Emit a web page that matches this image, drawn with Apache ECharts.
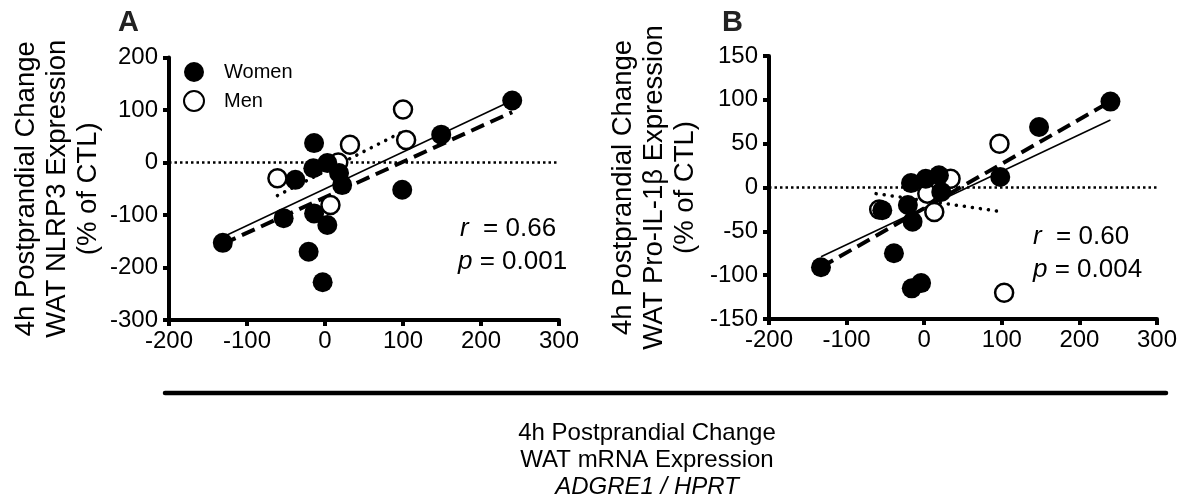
<!DOCTYPE html>
<html>
<head>
<meta charset="utf-8">
<script src="https://cdn.jsdelivr.net/npm/echarts@6/dist/echarts.min.js"></script>
<style>
  html, body { margin: 0; padding: 0; background: #fff; }
  #chart { width: 1184px; height: 504px; }
</style>
</head>
<body>
<div id="chart"></div>
<script>
  // values, [x = ADGRE1/HPRT change, y = target change]
  var womenA = [[-131,-153],[240,118],[149,53],[-14,37],[-15,-11],[3,-1],[18,-20],[22,-43],
                [-38,-33],[-53,-106],[-14,-97],[3,-119],[-21,-170],[-3,-228],[99,-52]]
  var menA = [[-61,-30],[32,34],[100,101],[104,43],[7,-81],[17,0]]
  var womenB = [[-133,-91],[240,98],[148,69],[98,12],[-17,5],[2,10],[19,14],[22,-5],
                [-21,-20],[-15,-39],[-54,-26],[-39,-75],[-16,-115],[-4,-109]]
  var menB = [[-58,-25],[34,10],[97,50],[103,-120],[4,-7],[13,-28]]

  // regression lines (end points)
  var fitAllA = [[-131,-142],[240,118]]
  var fitWomenA = [[-131,-155],[240,96]]
  var fitMenA = [[-61,-63],[104,62]]
  var fitAllB = [[-133,-79],[240,77]]
  var fitWomenB = [[-133,-91],[240,98]]
  var fitMenB = [[-62,-7],[103,-28]]
  var zeroLine = [[-200,0],[300,0]]

  var statsA = ['0.66', '0.001']
  var statsB = ['0.60', '0.004']

  var yNameA = '4h Postprandial Change\nWAT NLRP3 Expression\n(% of CTL)'
  var yNameB = '4h Postprandial Change\nWAT Pro-IL-1\u03b2 Expression\n(% of CTL)'
  var xName = ['4h Postprandial Change', 'WAT mRNA Expression', 'ADGRE1 / HPRT']

  var font = '"Liberation Sans", Arial, Helvetica, sans-serif'

  function xAxis(idx) {
    return {
      gridIndex: idx, type: 'value', min: -200, max: 300, interval: 100,
      axisLine: {onZero: false, lineStyle: {color: '#000', width: 4}},
      axisTick: {length: 6, lineStyle: {color: '#000', width: 4}},
      axisLabel: {fontSize: 24, color: '#000', margin: 9, fontFamily: font},
      splitLine: {show: false}
    }
  }

  function yAxis(idx, min, max, step, name, gap) {
    return {
      gridIndex: idx, type: 'value', min: min, max: max, interval: step,
      name: name, nameLocation: 'middle', nameGap: gap,
      nameTextStyle: {fontSize: 27.5, lineHeight: 31, color: '#000', fontFamily: font},
      axisLine: {onZero: false, lineStyle: {color: '#000', width: 4}},
      axisTick: {length: 6, lineStyle: {color: '#000', width: 4}},
      axisLabel: {fontSize: 24, color: '#000', margin: 11, fontFamily: font},
      splitLine: {show: false}
    }
  }

  function line(data, idx, style) {
    return {
      type: 'line', xAxisIndex: idx, yAxisIndex: idx, data: data,
      symbol: 'none', silent: true, animation: false, z: 1, lineStyle: style
    }
  }

  function dots(name, data, idx) {
    var open = name === 'Men'
    return {
      name: name, type: 'scatter', xAxisIndex: idx, yAxisIndex: idx, data: data,
      symbol: 'circle', symbolSize: open ? 18 : 20, z: open ? 2 : 3,
      itemStyle: open ? {color: '#fff', borderColor: '#000', borderWidth: 2.5, opacity: 1}
                      : {color: '#000', opacity: 1}
    }
  }

  var solid = {color: '#000', width: 1.5}
  var dashed = {color: '#000', width: 4, type: [14, 7]}
  var dotted = {color: '#000', width: 3.5, type: [0.1, 8], cap: 'round'}
  var zeroStyle = {color: '#000', width: 2.5, type: [2.5, 3]}

  function stat(x, y, letter, val) {
    return {
      type: 'text', x: x, y: y,
      style: {
        text: '{i|' + letter + '}' + (letter === 'r' ? '  = ' : ' = ') + val,
        fontSize: 26, fontFamily: font, fill: '#000', verticalAlign: 'middle',
        rich: {i: {fontStyle: 'italic', fontSize: 26, fontFamily: font}}
      }
    }
  }

  function label(x, y, text, extra) {
    var s = {text: text, fontSize: 24, fontFamily: font, fill: '#000',
             align: 'center', verticalAlign: 'middle'}
    for (var k in extra) s[k] = extra[k]
    return {type: 'text', x: x, y: y, style: s}
  }

  var myChart = echarts.init(document.getElementById('chart'))
  myChart.setOption({
    animation: false,
    textStyle: {fontFamily: font},
    grid: [
      {left: 169, right: 625, top: 57.5, bottom: 184},
      {left: 769, right: 27, top: 56, bottom: 185}
    ],
    xAxis: [xAxis(0), xAxis(1)],
    yAxis: [
      yAxis(0, -300, 200, 100, yNameA, 65),
      yAxis(1, -150, 150, 50, yNameB, 68)
    ],
    legend: {
      data: ['Women', 'Men'], orient: 'vertical', left: 178, top: 57,
      itemWidth: 30, itemHeight: 20, itemGap: 8, selectedMode: false,
      textStyle: {fontSize: 20, color: '#000', fontFamily: font, padding: [0, 0, 0, 10]}
    },
    series: [
      line(zeroLine, 0, zeroStyle),
      line(fitAllA, 0, solid),
      line(fitWomenA, 0, dashed),
      line(fitMenA, 0, dotted),
      dots('Men', menA, 0),
      dots('Women', womenA, 0),
      line(zeroLine, 1, zeroStyle),
      line(fitAllB, 1, solid),
      line(fitWomenB, 1, dashed),
      line(fitMenB, 1, dotted),
      dots('Men', menB, 1),
      dots('Women', womenB, 1)
    ],
    graphic: [
      {type: 'text', x: 118, y: 8, style: {text: 'A', fontSize: 29, fontWeight: 'bold', fontFamily: font, fill: '#222'}},
      {type: 'text', x: 722, y: 8, style: {text: 'B', fontSize: 29, fontWeight: 'bold', fontFamily: font, fill: '#222'}},
      stat(460, 229, 'r', statsA[0]),
      stat(458, 262, 'p', statsA[1]),
      stat(1033, 237, 'r', statsB[0]),
      stat(1033, 270, 'p', statsB[1]),
      {type: 'line', shape: {x1: 165, y1: 393, x2: 1166, y2: 393},
       style: {stroke: '#000', lineWidth: 4.5, lineCap: 'round'}},
      label(647, 433, xName[0]),
      label(647, 460, xName[1]),
      label(647, 487, xName[2], {fontStyle: 'italic'})
    ]
  })
</script>
</body>
</html>
